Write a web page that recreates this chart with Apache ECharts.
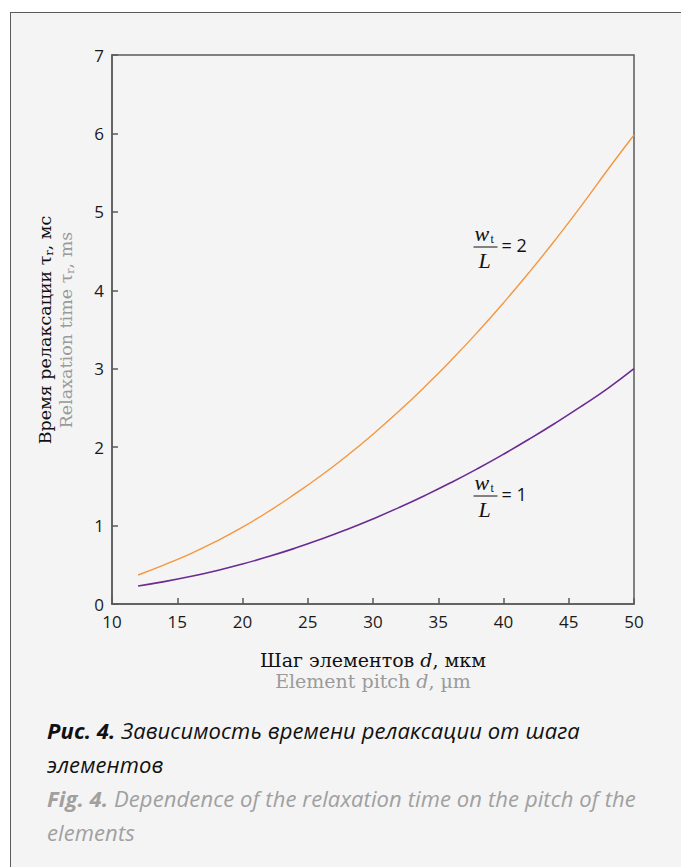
<!DOCTYPE html>
<html>
<head>
<meta charset="utf-8">
<script src="https://cdn.jsdelivr.net/npm/echarts@6/dist/echarts.min.js"></script>
<style>
  html, body { margin: 0; padding: 0; background: #ffffff; width: 681px; height: 867px; overflow: hidden; }
  #panel { position: absolute; left: 10px; top: 12px; width: 700px; height: 900px;
           background: #f4f4f4; border: 1.5px solid #5a5a5a; box-sizing: border-box; }
  #chart { position: absolute; left: 0; top: 0; width: 681px; height: 700px; }
  #caption { position: absolute; left: 47px; top: 713px; font-family: "Open Sans", "Noto Sans", sans-serif;
             font-style: italic; font-size: 22px; line-height: 34px; white-space: nowrap; letter-spacing: 0.1px; }
  #caption .ru { color: #111111; }
  #caption .en { color: #a0a0a0; }
  #caption b { font-weight: 700; }
</style>
</head>
<body>
<div id="panel"></div>
<div id="chart"></div>
<div id="caption">
  <div class="ru"><b>Рис. 4.</b> Зависимость времени релаксации от шага<br>элементов</div>
  <div class="en"><b>Fig. 4.</b> Dependence of the relaxation time on the pitch of the<br>elements</div>
</div>
<script>
// Element pitch d, µm
const pitch = [12, 14, 16, 18, 20, 22, 24, 26, 28, 30, 32, 34, 36, 38, 40, 42, 44, 46, 48, 50];
// Relaxation time τr, ms, for w_t / L = 1
const tauRatio1 = [0.23, 0.285, 0.35, 0.425, 0.51, 0.605, 0.71, 0.825, 0.95, 1.085, 1.23, 1.385, 1.55, 1.725, 1.91, 2.105, 2.31, 2.525, 2.75, 3.00];
// Relaxation time τr, ms, for w_t / L = 2
const tauRatio2 = [0.37, 0.50, 0.64, 0.80, 0.98, 1.18, 1.40, 1.635, 1.89, 2.165, 2.46, 2.775, 3.11, 3.465, 3.84, 4.235, 4.65, 5.085, 5.54, 5.98];

const axisColor = '#5a5a5a';
const labelFont = '"Open Sans", "Noto Sans", sans-serif';
const serif = '"DejaVu Serif", "Liberation Serif", serif';
const mathSerif = '"Liberation Serif", "DejaVu Serif", serif';

function pairs(xs, ys) { return xs.map((x, i) => [x, ys[i]]); }

// Fraction label "w_t / L = n"
function ratioLabel(x, y, n) {
  return {
    type: 'group', left: x, top: y,
    children: [
      { type: 'text', x: 1, y: 0, style: { text: 'w', font: 'italic 22px ' + mathSerif, fill: '#111' } },
      { type: 'text', x: 17, y: 11, style: { text: 't', font: '12px ' + mathSerif, fill: '#111' } },
      { type: 'line', shape: { x1: 0, y1: 25, x2: 24, y2: 25 }, style: { stroke: '#111', lineWidth: 1 } },
      { type: 'text', x: 5, y: 27, style: { text: 'L', font: 'italic 22px ' + mathSerif, fill: '#111' } },
      { type: 'text', x: 28, y: 14, style: { text: '= ' + n, font: '18px ' + labelFont, fill: '#111' } }
    ]
  };
}

const chart = echarts.init(document.getElementById('chart'), null, { renderer: 'svg' });
chart.setOption({
  backgroundColor: 'transparent',
  animation: false,
  grid: { left: 112, right: 47, top: 55, bottom: 96, show: true, borderColor: axisColor, borderWidth: 1.5, backgroundColor: 'transparent' },
  xAxis: {
    type: 'value', min: 10, max: 50, interval: 5,
    axisLine: { lineStyle: { color: axisColor, width: 1.5 } },
    axisTick: { inside: true, length: 6, lineStyle: { color: axisColor, width: 1.5 } },
    axisLabel: { margin: 9, fontSize: 17, color: '#1a1a1a', fontFamily: labelFont },
    splitLine: { show: false }
  },
  yAxis: {
    type: 'value', min: 0, max: 7, interval: 1,
    axisLine: { show: true, lineStyle: { color: axisColor, width: 1.5 } },
    axisTick: { show: true, inside: true, length: 6, lineStyle: { color: axisColor, width: 1.5 } },
    axisLabel: { margin: 8, fontSize: 17, color: '#1a1a1a', fontFamily: labelFont },
    splitLine: { show: false }
  },
  series: [
    { name: 'w/L = 1', type: 'line', smooth: true, showSymbol: false, data: pairs(pitch, tauRatio1),
      lineStyle: { color: '#6a2b92', width: 1.6 } },
    { name: 'w/L = 2', type: 'line', smooth: true, showSymbol: false, data: pairs(pitch, tauRatio2),
      lineStyle: { color: '#f5963f', width: 1.4 } }
  ],
  graphic: [
    // y axis title, two lines
    {
      type: 'text', x: 55, y: 330, rotation: Math.PI / 2, originX: 0, originY: 0,
      style: {
        text: '{ru|Время релаксации τ}{rusub|r}{ru|, мс}\n{en|Relaxation time τ}{ensub|r}{en|, ms}',
        align: 'center', verticalAlign: 'middle',
        rich: {
          ru: { font: '17.5px ' + serif, fill: '#111', lineHeight: 21 },
          rusub: { font: '11px ' + serif, fill: '#111', lineHeight: 21, verticalAlign: 'bottom', padding: [7, 0, 0, 0] },
          en: { font: '17.5px ' + serif, fill: '#9a9a9a', lineHeight: 21 },
          ensub: { font: '11px ' + serif, fill: '#9a9a9a', lineHeight: 21, verticalAlign: 'bottom', padding: [7, 0, 0, 0] }
        }
      }
    },
    // x axis title, two lines
    {
      type: 'text', x: 373, y: 670,
      style: {
        text: '{ru|Шаг элементов }{rui|d}{ru|, мкм}\n{en|Element pitch }{eni|d}{en|, µm}',
        align: 'center', verticalAlign: 'middle',
        rich: {
          ru: { font: '19px ' + serif, fill: '#111', lineHeight: 21 },
          rui: { font: 'italic 19px ' + serif, fill: '#111', lineHeight: 21 },
          en: { font: '19px ' + serif, fill: '#9a9a9a', lineHeight: 21 },
          eni: { font: 'italic 19px ' + serif, fill: '#9a9a9a', lineHeight: 21 }
        }
      }
    },
    ratioLabel(471, 222, 2),
    ratioLabel(471, 471, 1)
  ]
});
</script>
</body>
</html>
